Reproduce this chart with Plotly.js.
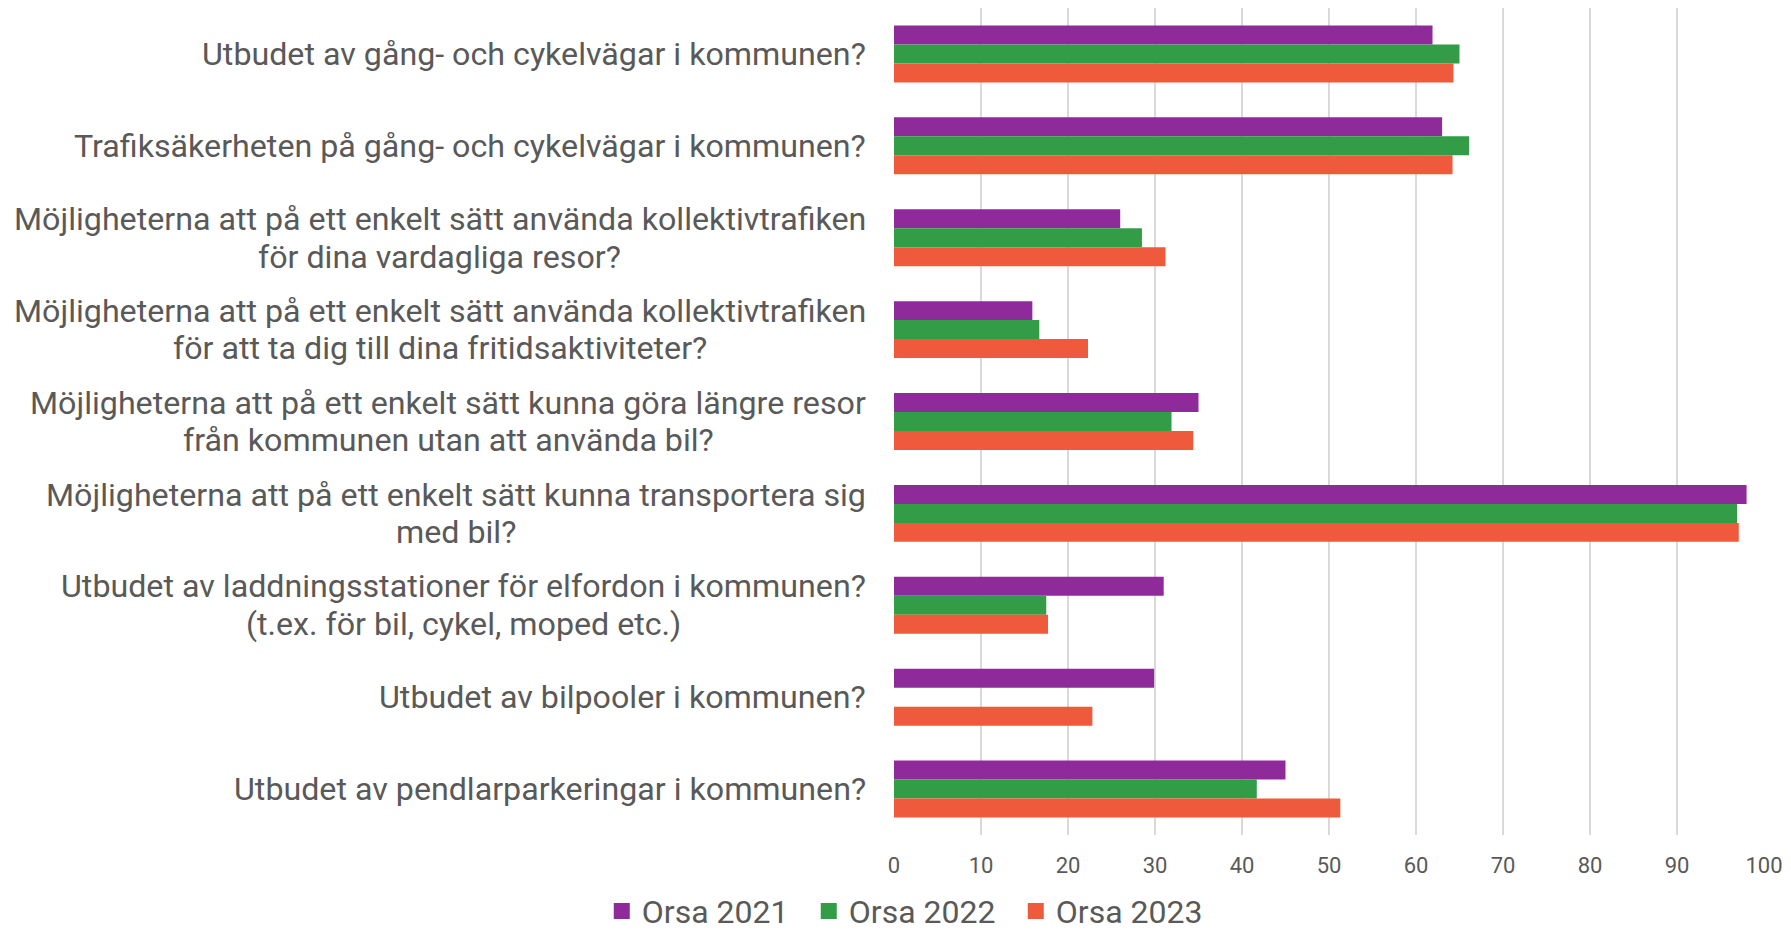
<!DOCTYPE html>
<html>
<head>
<meta charset="utf-8">
<script src="https://cdn.plot.ly/plotly-3.0.1.min.js"></script>
<style>html,body{margin:0;padding:0;background:#fff;}#chart{width:1791px;height:935px;}</style>
</head>
<body>
<div id="chart"></div>
<script>
const categories = [
  "Utbudet av gång- och cykelvägar i kommunen?",
  "Trafiksäkerheten på gång- och cykelvägar i kommunen?",
  "Möjligheterna att på ett enkelt sätt använda kollektivtrafiken<br>för dina vardagliga resor?",
  "Möjligheterna att på ett enkelt sätt använda kollektivtrafiken<br>för att ta dig till dina fritidsaktiviteter?",
  "Möjligheterna att på ett enkelt sätt kunna göra längre resor<br>från kommunen utan att använda bil?",
  "Möjligheterna att på ett enkelt sätt kunna transportera sig<br>med bil?",
  "Utbudet av laddningsstationer för elfordon i kommunen?<br>(t.ex. för bil, cykel, moped etc.)",
  "Utbudet av bilpooler i kommunen?",
  "Utbudet av pendlarparkeringar i kommunen?"
];
const seriesNames = ["Orsa 2021", "Orsa 2022", "Orsa 2023"];
const orsa2021 = [61.9, 63.0, 26.0, 15.9, 35.0, 98.0, 31.0, 29.9, 45.0];
const orsa2022 = [65.0, 66.1, 28.5, 16.7, 31.9, 96.9, 17.5, null, 41.7];
const orsa2023 = [64.3, 64.2, 31.2, 22.3, 34.4, 97.1, 17.7, 22.8, 51.3];
const xTicks = [0, 10, 20, 30, 40, 50, 60, 70, 80, 90, 100];

const colors = ["#8F2A9B", "#339C47", "#F05A3C"];
const values = [orsa2021, orsa2022, orsa2023];
const ids = categories.map((c, i) => "c" + i);

const LABEL_FONT = 32.2;
const LINE_H = 37.7;
const GAP = 28;

const canvas = document.createElement("canvas");
const ctx = canvas.getContext("2d");
ctx.font = LABEL_FONT + "px Roboto";

const traces = values.map((v, k) => ({
  type: "bar",
  orientation: "h",
  name: seriesNames[k],
  legendgroup: "g" + k,
  showlegend: false,
  y: ids,
  x: v,
  marker: {color: colors[k], line: {width: 0}},
  hoverinfo: "x+name"
}));

// legend entries with square swatches (no data drawn)
seriesNames.forEach((n, k) => {
  traces.push({
    type: "scatter",
    mode: "markers",
    name: n,
    legendgroup: "g" + k,
    showlegend: true,
    x: [null], y: [null],
    marker: {symbol: "square", size: 16, color: colors[k]},
    hoverinfo: "skip"
  });
});

const annotations = [];
categories.forEach((c, i) => {
  const lines = c.split("<br>");
  const widths = lines.map(l => ctx.measureText(l).width);
  const maxW = Math.max(...widths);
  lines.forEach((line, j) => {
    annotations.push({
      xref: "paper", yref: "y",
      x: 0, y: ids[i],
      xanchor: "center", yanchor: "middle",
      xshift: -GAP - maxW / 2,
      yshift: -((j - (lines.length - 1) / 2) * LINE_H),
      text: line,
      showarrow: false,
      borderpad: 0,
      font: {family: "Roboto, sans-serif", size: LABEL_FONT, color: "#595959"}
    });
  });
});

const layout = {
  width: 1791, height: 935,
  margin: {l: 894, r: 27, t: 8, b: 100, autoexpand: false},
  paper_bgcolor: "#ffffff", plot_bgcolor: "#ffffff",
  font: {family: "Roboto, sans-serif", color: "#595959"},
  barmode: "group",
  bargap: 0.38,
  bargroupgap: 0,
  xaxis: {
    range: [0, 100],
    tickvals: xTicks,
    ticktext: xTicks.map(String),
    showgrid: true, gridcolor: "#d9d9d9", gridwidth: 1.5,
    zeroline: false, showline: false, ticks: "",
    ticklabelstandoff: 15,
    tickfont: {family: "Roboto, sans-serif", size: 22, color: "#595959"},
    fixedrange: true
  },
  yaxis: {
    type: "category",
    autorange: "reversed",
    showticklabels: false,
    showgrid: false, zeroline: false, showline: false, ticks: "",
    fixedrange: true
  },
  showlegend: true,
  legend: {
    orientation: "h",
    x: 0.021, xanchor: "center",
    y: -0.092, yanchor: "middle",
    font: {family: "Roboto, sans-serif", size: 32, color: "#595959"},
    traceorder: "normal",
    itemsizing: "trace",
    itemwidth: 30,
    entrywidth: 162
  },
  annotations: annotations
};

Plotly.newPlot("chart", traces, layout, {displayModeBar: false, staticPlot: true});
</script>
</body>
</html>
